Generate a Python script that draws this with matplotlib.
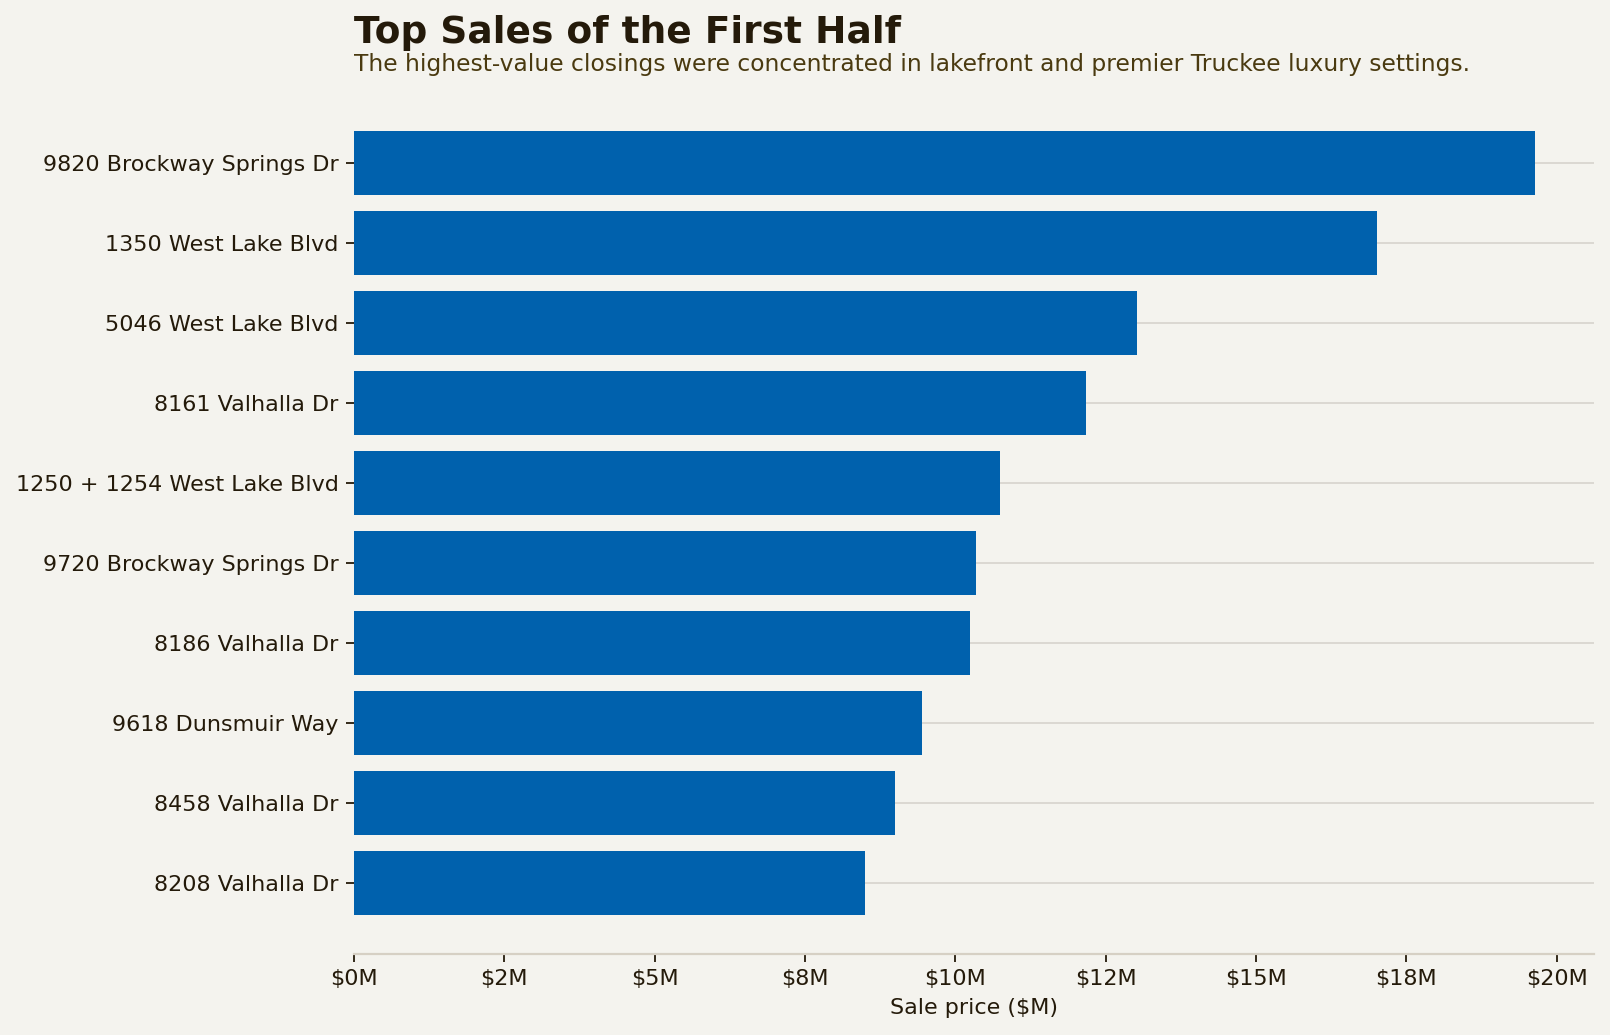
import matplotlib.pyplot as plt
from matplotlib.ticker import FuncFormatter, MultipleLocator

# data
addresses = [
    '9820 Brockway Springs Dr', '1350 West Lake Blvd', '5046 West Lake Blvd',
    '8161 Valhalla Dr', '1250 + 1254 West Lake Blvd', '9720 Brockway Springs Dr',
    '8186 Valhalla Dr', '9618 Dunsmuir Way', '8458 Valhalla Dr', '8208 Valhalla Dr',
]
prices_m = [19.64, 17.01, 13.02, 12.18, 10.74, 10.34, 10.24, 9.45, 9.0, 8.5]

bg = '#f4f3ee'
ink = '#241a0a'
bar_color = '#0061ad'

W, H = 1610, 1035
fig = plt.figure(figsize=(16.1, 10.35), dpi=100, facecolor=bg)
ax = fig.add_axes([354 / W, 1 - 954 / H, (1594 - 354) / W, (954 - 92) / H])
ax.set_facecolor(bg)

ax.barh(addresses, prices_m, height=0.8, color=bar_color, zorder=3)
ax.invert_yaxis()
ax.set_xlim(0, max(prices_m) * 1.05)

ax.xaxis.set_major_locator(MultipleLocator(2.5))
ax.xaxis.set_major_formatter(FuncFormatter(lambda x, pos: f'${x:.0f}M'))
ax.set_xlabel('Sale price ($M)', fontsize=16, color=ink, labelpad=6)

ax.grid(axis='y', color='#d9d6cf', linewidth=1.3, zorder=0)
ax.grid(axis='x', visible=False)
for s in ['top', 'right', 'left']:
    ax.spines[s].set_visible(False)
ax.spines['bottom'].set_color('#d6d0c4')
ax.spines['bottom'].set_linewidth(1.6)
ax.tick_params(axis='both', labelsize=16, colors=ink, length=6, width=1.3, pad=5)

fig.text(354 / W, 1 - 33 / H, 'Top Sales of the First Half', fontsize=27,
         fontweight='bold', color=ink, va='center', ha='left')
fig.text(354 / W, 1 - 64 / H,
         'The highest-value closings were concentrated in lakefront and premier Truckee luxury settings.',
         fontsize=16.8, color='#4a3a10', va='center', ha='left')

fig.savefig('out.png', dpi=100, facecolor=bg)
